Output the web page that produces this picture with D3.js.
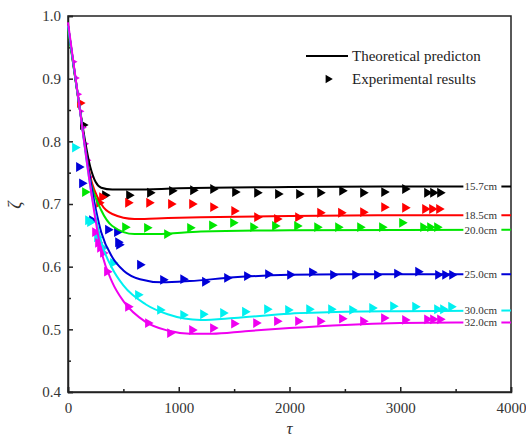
<!DOCTYPE html>
<html>
<head>
<meta charset="utf-8">
<script src="https://cdn.jsdelivr.net/npm/d3@7"></script>
<style>
  body { margin: 0; background: #fff; }
  svg text { font-family: "Liberation Serif", "Times New Roman", serif !important; }
</style>
</head>
<body>
<div id="chart"></div>
<script>
// series names / colours
var seriesNames = ["15.7cm", "18.5cm", "20.0cm", "25.0cm", "30.0cm", "32.0cm"];
var seriesColors = ["#000000", "#ff0000", "#00e600", "#0000d8", "#00f0f0", "#f000f0"];

var xTicks = [0, 1000, 2000, 3000, 4000];
var yTicks = [0.4, 0.5, 0.6, 0.7, 0.8, 0.9, 1.0];

// theoretical prediction curves [tau, zeta]
var theory157 = [[0,0.985],[100,0.86],[200,0.76],[250,0.735],[300,0.726],[400,0.723],[600,0.723],[1000,0.725],[2000,0.727],[3000,0.728],[4000,0.728]];
var theory185 = [[0,0.985],[100,0.86],[200,0.745],[300,0.70],[400,0.684],[600,0.676],[800,0.677],[1200,0.679],[2000,0.681],[3000,0.682],[4000,0.682]];
var theory200 = [[0,0.98],[100,0.86],[200,0.74],[300,0.69],[400,0.665],[600,0.652],[800,0.652],[1200,0.656],[2000,0.658],[4000,0.659]];
var theory250 = [[0,0.985],[100,0.86],[200,0.74],[300,0.655],[400,0.615],[500,0.594],[650,0.58],[850,0.575],[1100,0.577],[1500,0.583],[2000,0.587],[2500,0.588],[4000,0.588]];
var theory300 = [[0,0.985],[100,0.86],[200,0.73],[300,0.64],[400,0.597],[500,0.57],[700,0.54],[900,0.524],[1200,0.515],[1500,0.518],[2000,0.525],[2500,0.528],[3000,0.529],[4000,0.53]];
var theory320 = [[0,0.99],[100,0.86],[200,0.73],[300,0.625],[400,0.575],[500,0.545],[700,0.512],[900,0.498],[1100,0.493],[1300,0.493],[1600,0.497],[2000,0.502],[2500,0.507],[3000,0.51],[3500,0.511],[4000,0.511]];

// experimental results [tau, zeta]
var exp157 = [[135,0.826],[334,0.714],[551,0.714],[740,0.718],[939,0.721],[1129,0.722],[1310,0.724],[1508,0.719],[1707,0.718],[1896,0.716],[2086,0.716],[2276,0.718],[2475,0.721],[2664,0.718],[2854,0.719],[3043,0.724],[3242,0.718],[3296,0.718],[3359,0.718]];
var exp185 = [[108,0.861],[280,0.702],[307,0.711],[542,0.702],[732,0.702],[930,0.700],[1120,0.700],[1310,0.695],[1500,0.689],[1707,0.679],[1887,0.676],[2077,0.679],[2276,0.686],[2465,0.686],[2664,0.687],[2854,0.695],[3043,0.694],[3224,0.692],[3287,0.692],[3350,0.692]];
var exp200 = [[153,0.719],[515,0.663],[713,0.662],[894,0.652],[1102,0.662],[1300,0.666],[1490,0.670],[1671,0.663],[1869,0.665],[2068,0.665],[2249,0.663],[2438,0.663],[2637,0.663],[2835,0.663],[3016,0.670],[3206,0.663],[3269,0.663],[3332,0.663]];
var exp250 = [[99,0.759],[126,0.733],[217,0.674],[361,0.659],[442,0.655],[452,0.639],[461,0.635],[650,0.603],[858,0.579],[1040,0.580],[1237,0.576],[1436,0.582],[1616,0.585],[1806,0.588],[2005,0.587],[2203,0.591],[2393,0.587],[2592,0.587],[2790,0.587],[2971,0.589],[3161,0.592],[3341,0.587],[3405,0.587],[3468,0.587]];
var exp300 = [[63,0.790],[181,0.674],[199,0.671],[262,0.647],[316,0.630],[406,0.606],[632,0.555],[831,0.531],[1040,0.523],[1219,0.524],[1400,0.526],[1598,0.528],[1797,0.532],[1987,0.531],[2177,0.532],[2375,0.532],[2565,0.531],[2746,0.534],[2935,0.537],[3134,0.536],[3332,0.532],[3386,0.532],[3459,0.536]];
var exp320 = [[36,0.927],[57,0.901],[78,0.875],[99,0.848],[120,0.822],[141,0.796],[162,0.770],[183,0.743],[204,0.717],[244,0.655],[271,0.638],[289,0.630],[316,0.622],[352,0.592],[542,0.536],[722,0.510],[921,0.494],[1120,0.499],[1309,0.502],[1499,0.509],[1698,0.510],[1887,0.513],[2077,0.513],[2276,0.513],[2474,0.517],[2664,0.513],[2853,0.518],[3043,0.515],[3242,0.516],[3296,0.516],[3359,0.516]];

var theoryData = [theory157, theory185, theory200, theory250, theory300, theory320];
var expData = [exp157, exp185, exp200, exp250, exp300, exp320];

var svgWidth = 526, svgHeight = 441;
var margin = { top: 16, right: 15, bottom: 49, left: 68 };
var width = svgWidth - margin.left - margin.right;
var height = svgHeight - margin.top - margin.bottom;

var svg = d3.select("#chart")
  .append("svg")
  .attr("width", svgWidth)
  .attr("height", svgHeight);

var chartGroup = svg.append("g")
  .attr("transform", `translate(${margin.left}, ${margin.top})`);

var xScale = d3.scaleLinear().domain([0, 4000]).range([0, width]);
var yScale = d3.scaleLinear().domain([0.4, 1.0]).range([height, 0]);

// frame
chartGroup.append("rect")
  .attr("width", width)
  .attr("height", height)
  .attr("fill", "none")
  .attr("stroke", "#222")
  .attr("stroke-width", 1.5);

// minor ticks
chartGroup.append("g")
  .attr("transform", `translate(0, ${height})`)
  .call(d3.axisBottom(xScale).tickValues([500, 1500, 2500, 3500]).tickSize(-3).tickFormat(""))
  .call(g => g.select(".domain").remove());
chartGroup.append("g")
  .call(d3.axisLeft(yScale).tickValues([0.45, 0.55, 0.65, 0.75, 0.85, 0.95]).tickSize(-3).tickFormat(""))
  .call(g => g.select(".domain").remove());

var xAxis = d3.axisBottom(xScale).tickValues(xTicks).tickSize(-5).tickPadding(10).tickFormat(d3.format("d"));
var yAxis = d3.axisLeft(yScale).tickValues(yTicks).tickSize(-5).tickPadding(7).tickFormat(d3.format(".1f"));

chartGroup.append("g")
  .attr("transform", `translate(0, ${height})`)
  .call(xAxis);
chartGroup.append("g")
  .call(yAxis);

chartGroup.selectAll(".tick line").attr("stroke", "#222").attr("stroke-width", 1.5);
chartGroup.selectAll(".domain").attr("stroke", "#222").attr("stroke-width", 1.5);
chartGroup.selectAll(".tick text")
  .attr("font-size", "15px")
  .attr("fill", "#333");

var line = d3.line()
  .x(d => xScale(d[0]))
  .y(d => yScale(d[1]))
  .curve(d3.curveMonotoneX);

var plot = chartGroup.append("g");

// markers under the curves; the dense early 32.0cm points are drawn small
expData.forEach(function(data, i) {
  plot.append("g").selectAll("path")
    .data(data)
    .enter()
    .append("path")
    .attr("d", d => d3.symbol().type(d3.symbolTriangle).size(i == 5 && d[0] < 230 ? 16 : 42)())
    .attr("transform", d => `translate(${xScale(d[0]) + (i == 5 && d[0] < 230 ? 2 : 0)}, ${yScale(d[1])}) rotate(90)`)
    .attr("fill", seriesColors[i]);
});

theoryData.forEach(function(data, i) {
  plot.append("path")
    .datum(data)
    .attr("d", line)
    .attr("fill", "none")
    .attr("stroke", seriesColors[i])
    .attr("stroke-width", 2);
});

// curve labels at right end
theoryData.forEach(function(data, i) {
  var last = data[data.length - 1];
  var ly = yScale(last[1]);
  plot.append("rect")
    .attr("x", xScale(3570))
    .attr("y", ly - 6)
    .attr("width", 38)
    .attr("height", 12)
    .attr("fill", "white");
  plot.append("text")
    .attr("x", xScale(3570) + 1)
    .attr("y", ly)
    .attr("dy", "0.35em")
    .attr("font-size", "11px")
    .attr("fill", "#333")
    .text(seriesNames[i]);
});

// legend
var legend = chartGroup.append("g").attr("transform", `translate(${306 - margin.left}, ${56 - margin.top})`);
legend.append("line")
  .attr("x1", 0).attr("x2", 42)
  .attr("y1", 0).attr("y2", 0)
  .attr("stroke", "black")
  .attr("stroke-width", 2);
legend.append("text")
  .attr("x", 46).attr("y", 0).attr("dy", "0.33em")
  .attr("font-size", "15px")
  .attr("fill", "#222")
  .text("Theoretical predicton");
legend.append("path")
  .attr("d", d3.symbol().type(d3.symbolTriangle).size(30))
  .attr("transform", "translate(22, 23) rotate(90)")
  .attr("fill", "black");
legend.append("text")
  .attr("x", 46).attr("y", 23).attr("dy", "0.33em")
  .attr("font-size", "15px")
  .attr("fill", "#222")
  .text("Experimental results");

// axis titles
svg.append("text")
  .attr("x", margin.left + width / 2)
  .attr("y", 434)
  .attr("text-anchor", "middle")
  .attr("font-size", "17px")
  .attr("font-style", "italic")
  .attr("fill", "#333")
  .text("τ");

svg.append("text")
  .attr("transform", "translate(21, 205) rotate(-90)")
  .attr("text-anchor", "middle")
  .attr("font-size", "18px")
  .attr("font-style", "italic")
  .attr("fill", "#333")
  .text("ζ");
</script>
</body>
</html>
